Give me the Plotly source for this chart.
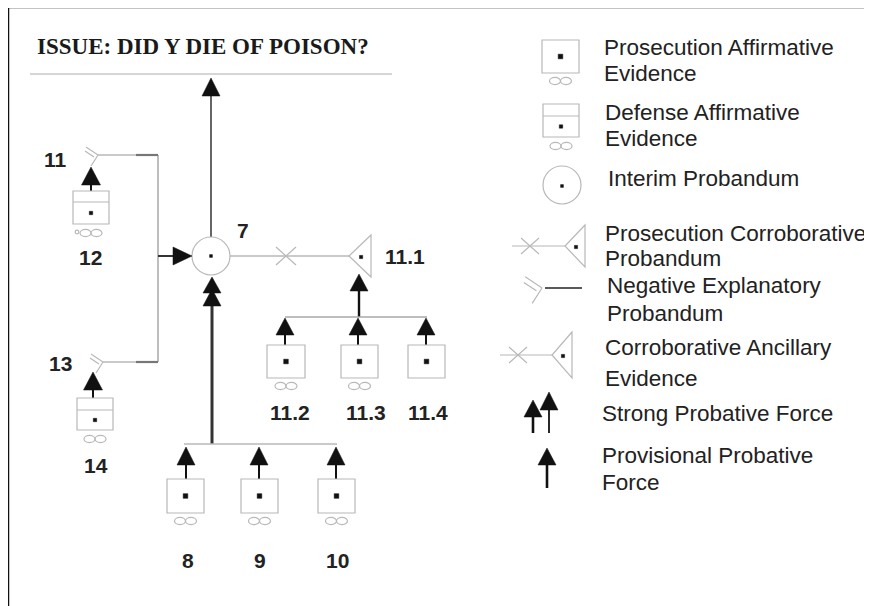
import plotly.graph_objects as go

# ---------------- data (text content) ----------------
title_text = "ISSUE: DID Y DIE OF POISON?"
node_labels = ["7", "8", "9", "10", "11", "11.1", "11.2", "11.3", "11.4", "12", "13", "14"]
legend_labels = [
    ["Prosecution Affirmative", "Evidence"],
    ["Defense Affirmative", "Evidence"],
    ["Interim Probandum"],
    ["Prosecution Corroborative", "Probandum"],
    ["Negative Explanatory", "Probandum"],
    ["Corroborative Ancillary", "Evidence"],
    ["Strong Probative Force"],
    ["Provisional Probative", "Force"],
]

# ---------------- layout positions (page pixel space) ----------------
label_pos = {
    "7": (243, 230), "8": (188, 560), "9": (260, 560), "10": (337, 560),
    "11": (55, 159), "11.1": (405, 256), "11.2": (290, 412), "11.3": (366, 412),
    "11.4": (428, 412), "12": (90, 257), "13": (60, 363), "14": (96, 465),
}
legend_pos = [(602, [47, 73]), (603, [112, 138]), (606, [178]), (603, [233, 258]),
              (605, [285, 313]), (603, [347, 378]), (600, [413]), (600, [455, 482])]

W, H = 872, 606
OFF = 8  # page body margin
shapes = []
annos = []

GRAY = "#a8a8a8"
LGRAY = "#b8b8b8"
DARK = "#222222"


def line(x0, y0, x1, y1, color=GRAY, width=1.2):
    shapes.append(dict(type="line", x0=x0, y0=y0, x1=x1, y1=y1,
                       line=dict(color=color, width=width), xref="x", yref="y"))


def poly(pts, fill=DARK, lc=None, lw=0.5):
    d = "M " + " L ".join(f"{x},{y}" for x, y in pts) + " Z"
    shapes.append(dict(type="path", path=d, fillcolor=fill,
                       line=dict(color=lc or fill, width=lw), xref="x", yref="y"))


def rect(x0, y0, x1, y1, color=LGRAY, width=1.2, fill="rgba(0,0,0,0)"):
    shapes.append(dict(type="rect", x0=x0, y0=y0, x1=x1, y1=y1, fillcolor=fill,
                       line=dict(color=color, width=width), xref="x", yref="y"))


def ellipse(cx, cy, rx, ry, color=LGRAY, width=1.2, fill="rgba(0,0,0,0)"):
    shapes.append(dict(type="circle", x0=cx - rx, y0=cy - ry, x1=cx + rx, y1=cy + ry,
                       fillcolor=fill, line=dict(color=color, width=width), xref="x", yref="y"))


def dot(cx, cy, s=2.2):
    rect(cx - s, cy - s, cx + s, cy + s, color="#111", width=0.5, fill="#111")


def arrow_up(x, tip, base, bottom, hw=9, stem_w=2.2, color="#111"):
    if bottom is not None and bottom > base:
        line(x, base - 1, x, bottom, color=color, width=stem_w)
    poly([(x, tip), (x + hw, base), (x - hw, base)], fill=color)


def infinity(cx, cy, extra=False):
    ellipse(cx - 5.5, cy, 5.5, 3.6)
    ellipse(cx + 5.5, cy, 5.5, 3.6)
    if extra:
        ellipse(cx - 14, cy - 1, 1.8, 1.8)


def pbox(x0, y0, x1, y1, inf=True, extra=False):
    rect(x0, y0, x1, y1)
    dot((x0 + x1) / 2, (y0 + y1) / 2, 2.3)
    if inf:
        infinity((x0 + x1) / 2, y1 + 8, extra)


def dbox(x0, y0, x1, y1, div, inf=True, extra=False):
    rect(x0, y0, x1, y1)
    line(x0, div, x1, div, color=LGRAY)
    dot((x0 + x1) / 2, (div + y1) / 2, 1.7)
    if inf:
        infinity((x0 + x1) / 2, y1 + 9, extra)


def xmark(cx, cy, hx=9, hy=8):
    line(cx - hx, cy - hy, cx + hx, cy + hy, color=LGRAY)
    line(cx - hx, cy + hy, cx + hx, cy - hy, color=LGRAY)


def corrob(tip_x, cy, right_x, half_h):
    shapes.append(dict(type="path",
                       path=f"M {right_x},{cy - half_h} L {tip_x},{cy} L {right_x},{cy + half_h} Z",
                       fillcolor="rgba(0,0,0,0)", line=dict(color=LGRAY, width=1.2),
                       xref="x", yref="y"))
    dot(tip_x + (right_x - tip_x) * 0.55, cy + 1, 1.6)


def negexp(jx, jy, s=1.0):
    line(jx - 12 * s, jy - 8 * s, jx, jy, color=LGRAY)
    line(jx - 13 * s, jy - 4 * s, jx - 4 * s, jy + 2 * s, color=LGRAY)
    line(jx, jy, jx - 7 * s, jy + 11 * s, color=LGRAY)


# ---------------- frame & title ----------------
line(8.5, 7, 8.5, H + OFF, color="#111", width=1.5)
line(8, 7.5, W + OFF, 7.5, color="#111", width=1.5)
line(30, 74, 392, 74, color="#c8c8c8", width=1.5)

# ---------------- main chain ----------------
line(211, 94, 211, 237, color="#666", width=2)
arrow_up(211, 78, 96, None, hw=9)
ellipse(211, 256, 19, 19, color=LGRAY)
dot(211, 256, 1.4)

# strong force from 8,9,10
line(212, 300, 212, 444, color="#333", width=3)
poly([(212, 277), (221, 293), (203, 293)], fill="#111")
poly([(212, 289), (221, 306), (203, 306)], fill="#111")
line(184, 444, 337, 444, color=LGRAY, width=1.5)
for cx, x0, x1 in [(186, 167, 204), (259, 241, 278), (336, 318, 355)]:
    arrow_up(cx, 447, 465, 479, hw=9, stem_w=2)
    pbox(x0, 479, x1, 513)

# left negative explanations
line(158, 155, 158, 362, color=GRAY, width=1.5)
line(158, 256, 174, 256, color="#333", width=2)
poly([(192, 256), (173, 247), (173, 265)], fill="#111")

negexp(98, 155)
line(98, 155, 158, 155, color=LGRAY, width=1.3)
line(136, 155, 158, 155, color="#777", width=2.2)
arrow_up(91, 167, 185, 191, hw=9.5, stem_w=2)
dbox(73, 191, 109, 224, 202, extra=True)

negexp(103, 362)
line(103, 362, 158, 362, color=LGRAY, width=1.3)
line(136, 362, 158, 362, color="#777", width=2.2)
arrow_up(93, 372, 390, 398, hw=9.5, stem_w=2)
dbox(77, 398, 113, 430, 410)

# corroboration 11.1
line(230, 256, 349, 256, color=LGRAY, width=1.3)
xmark(286, 256, 10, 9)
corrob(349, 256, 371, 21)
arrow_up(359, 274, 291, 317, hw=9, stem_w=2.4)
line(285, 317, 427, 317, color=GRAY, width=1.3)
for cx, x0, x1, inf in [(285, 267, 305, True), (358, 341, 378, True), (426, 408, 445, False)]:
    arrow_up(cx, 318, 335, 345, hw=9, stem_w=2)
    pbox(x0, 345, x1, 378, inf=inf)

# ---------------- legend symbols ----------------
pbox(542, 40, 579, 73)
dbox(543, 104, 579, 137, 116)
ellipse(562, 185, 19, 19, color=LGRAY)
dot(562, 186, 1.4)

line(512, 246, 565, 246, color=LGRAY)
xmark(530, 246, 9, 8)
corrob(565, 246, 585, 21)

negexp(542, 288, 1.4)
line(545, 288, 582, 288, color="#222", width=1.5)

line(500, 355, 552, 355, color=LGRAY)
xmark(518, 355, 9, 8)
corrob(552, 355, 572, 23)

arrow_up(533, 400, 417, 433, hw=9, stem_w=2.6)
arrow_up(549, 392, 410, 433, hw=9, stem_w=1.8)
arrow_up(547, 448, 465, 488, hw=9, stem_w=2.6)

# ---------------- text ----------------
annos.append(dict(x=35, y=46, text=f"<b>{title_text}</b>", showarrow=False,
                  xanchor="left", yanchor="middle",
                  font=dict(family="Liberation Serif, Times New Roman, serif", size=23, color="#1a1a1a")))
for lab in node_labels:
    x, y = label_pos[lab]
    annos.append(dict(x=x, y=y, text=f"<b>{lab}</b>", showarrow=False,
                      xanchor="center", yanchor="middle",
                      font=dict(family="Liberation Sans, Arial, sans-serif", size=21, color=DARK)))
for lines_, (x, ys) in zip(legend_labels, legend_pos):
    for t, y in zip(lines_, ys):
        annos.append(dict(x=x, y=y, text=t, showarrow=False, xanchor="left", yanchor="middle",
                          font=dict(family="Liberation Sans, Arial, sans-serif", size=22.5, color=DARK)))

fig = go.Figure()
fig.update_layout(
    width=W, height=H, margin=dict(l=0, r=0, t=0, b=0),
    paper_bgcolor="white", plot_bgcolor="white",
    xaxis=dict(range=[OFF, W + OFF], visible=False, fixedrange=True),
    yaxis=dict(range=[H + OFF, OFF], visible=False, fixedrange=True),
    shapes=shapes, annotations=annos, showlegend=False,
)
fig.write_html("out.html")
